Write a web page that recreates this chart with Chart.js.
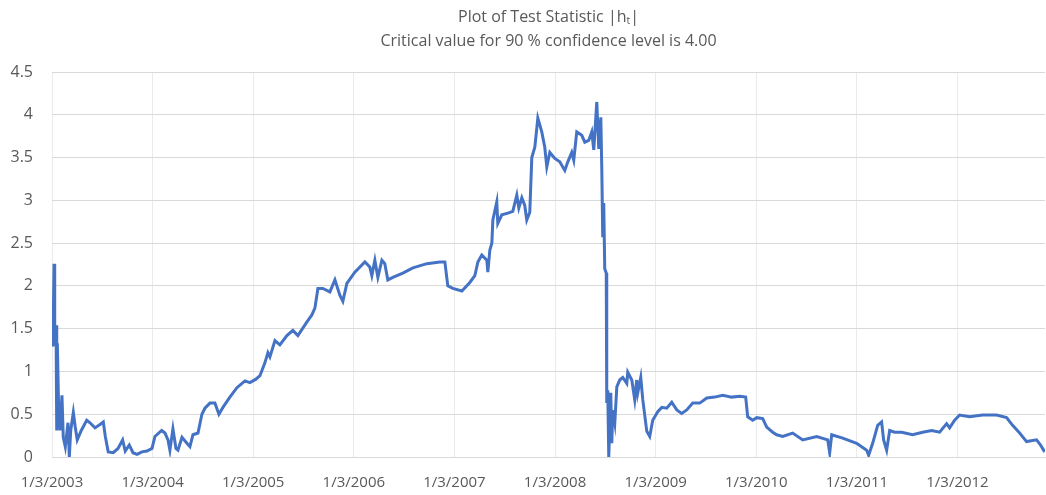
<!DOCTYPE html>
<html>
<head>
<meta charset="utf-8">
<script src="https://cdn.jsdelivr.net/npm/chart.js@4.4.0/dist/chart.umd.min.js"></script>
<style>
  html, body { margin: 0; padding: 0; background: #ffffff; }
  #wrap { width: 1046px; height: 495px; }
</style>
</head>
<body>
<div id="wrap"><canvas id="grafico" width="1046" height="495"></canvas></div>
<script>
// Datas em anos decimais (1/3/2003 = 2003.0)
const datas = [
  2003.007, 2003.015, 2003.020, 2003.027, 2003.040, 2003.047, 2003.053, 2003.067, 2003.079, 2003.099,
  2003.112, 2003.132, 2003.159, 2003.172, 2003.186, 2003.212, 2003.231, 2003.251, 2003.291, 2003.345,
  2003.378, 2003.427, 2003.477, 2003.510, 2003.530, 2003.559, 2003.609, 2003.656, 2003.702, 2003.728,
  2003.768, 2003.805, 2003.845, 2003.894, 2003.944, 2003.994, 2004.023, 2004.090, 2004.123, 2004.153,
  2004.172, 2004.202, 2004.232, 2004.252, 2004.292, 2004.341, 2004.371, 2004.401, 2004.451, 2004.490,
  2004.520, 2004.570, 2004.619, 2004.659, 2004.699, 2004.768, 2004.838, 2004.918, 2004.967, 2005.027,
  2005.067, 2005.116, 2005.146, 2005.166, 2005.216, 2005.265, 2005.335, 2005.394, 2005.444, 2005.534,
  2005.583, 2005.613, 2005.643, 2005.692, 2005.762, 2005.812, 2005.861, 2005.891, 2005.931, 2006.010,
  2006.110, 2006.159, 2006.179, 2006.209, 2006.239, 2006.279, 2006.308, 2006.338, 2006.388, 2006.487,
  2006.587, 2006.726, 2006.855, 2006.905, 2006.934, 2006.984, 2007.074, 2007.153, 2007.203, 2007.233,
  2007.272, 2007.322, 2007.332, 2007.352, 2007.372, 2007.382, 2007.421, 2007.431, 2007.471, 2007.531,
  2007.580, 2007.620, 2007.640, 2007.670, 2007.699, 2007.719, 2007.749, 2007.769, 2007.799, 2007.829,
  2007.868, 2007.898, 2007.918, 2007.948, 2007.998, 2008.047, 2008.097, 2008.127, 2008.166, 2008.186,
  2008.216, 2008.266, 2008.296, 2008.335, 2008.365, 2008.385, 2008.415, 2008.435, 2008.455, 2008.465,
  2008.474, 2008.484, 2008.494, 2008.509, 2008.514, 2008.524, 2008.534, 2008.554, 2008.564, 2008.574,
  2008.594, 2008.614, 2008.643, 2008.673, 2008.713, 2008.723, 2008.763, 2008.792, 2008.812, 2008.822,
  2008.852, 2008.872, 2008.912, 2008.941, 2008.971, 2009.021, 2009.061, 2009.110, 2009.160, 2009.210,
  2009.259, 2009.309, 2009.369, 2009.438, 2009.508, 2009.587, 2009.667, 2009.756, 2009.836, 2009.895,
  2009.915, 2009.965, 2010.005, 2010.064, 2010.104, 2010.163, 2010.203, 2010.263, 2010.362, 2010.462,
  2010.601, 2010.710, 2010.730, 2010.750, 2010.859, 2010.998, 2011.097, 2011.117, 2011.157, 2011.207,
  2011.246, 2011.266, 2011.296, 2011.326, 2011.376, 2011.445, 2011.554, 2011.654, 2011.743, 2011.823,
  2011.892, 2011.922, 2011.972, 2012.021, 2012.121, 2012.250, 2012.389, 2012.488, 2012.548, 2012.618,
  2012.687, 2012.786, 2012.826, 2012.866
];

// Valores da estatística |ht|
const valores = [
  1.29, 1.75, 2.26, 1.30, 1.54, 0.31, 1.33, 0.50, 0.31, 0.72,
  0.23, 0.12, 0.40, 0.00, 0.31, 0.52, 0.35, 0.20, 0.31, 0.43,
  0.40, 0.34, 0.38, 0.41, 0.24, 0.06, 0.05, 0.10, 0.20, 0.07,
  0.14, 0.05, 0.03, 0.06, 0.07, 0.10, 0.24, 0.31, 0.28, 0.20,
  0.08, 0.33, 0.10, 0.08, 0.23, 0.16, 0.12, 0.26, 0.28, 0.50,
  0.57, 0.63, 0.63, 0.50, 0.58, 0.70, 0.81, 0.89, 0.87, 0.91,
  0.95, 1.10, 1.22, 1.17, 1.36, 1.31, 1.42, 1.48, 1.42, 1.58,
  1.66, 1.74, 1.97, 1.97, 1.93, 2.07, 1.89, 1.82, 2.03, 2.16,
  2.28, 2.22, 2.12, 2.30, 2.10, 2.30, 2.26, 2.07, 2.10, 2.15,
  2.21, 2.26, 2.28, 2.28, 2.00, 1.97, 1.94, 2.04, 2.12, 2.28,
  2.36, 2.30, 2.16, 2.42, 2.50, 2.77, 2.98, 2.73, 2.83, 2.85,
  2.87, 3.06, 2.91, 3.03, 2.94, 2.77, 2.86, 3.50, 3.62, 3.96,
  3.80, 3.62, 3.39, 3.56, 3.49, 3.45, 3.35, 3.45, 3.56, 3.47,
  3.80, 3.76, 3.68, 3.70, 3.80, 3.59, 4.15, 3.60, 3.97, 3.35,
  2.57, 2.97, 2.20, 2.15, 0.63, 0.78, 0.00, 0.75, 0.16, 0.55,
  0.40, 0.82, 0.90, 0.93, 0.86, 0.99, 0.90, 0.67, 0.90, 0.75,
  0.93, 0.67, 0.30, 0.24, 0.43, 0.53, 0.58, 0.57, 0.64, 0.55,
  0.51, 0.55, 0.63, 0.63, 0.69, 0.70, 0.72, 0.70, 0.71, 0.70,
  0.47, 0.43, 0.46, 0.45, 0.35, 0.29, 0.26, 0.24, 0.28, 0.20,
  0.24, 0.20, 0.05, 0.26, 0.22, 0.16, 0.08, 0.02, 0.16, 0.37,
  0.41, 0.20, 0.08, 0.31, 0.29, 0.29, 0.26, 0.29, 0.31, 0.29,
  0.39, 0.34, 0.43, 0.49, 0.47, 0.49, 0.49, 0.46, 0.37, 0.28,
  0.18, 0.20, 0.14, 0.06
];

// Eixos
const anoInicial = 2003;
const anoFinal = 2012.87;
const tituloLinhas = ['Plot of Test Statistic |h\u209C|', 'Critical value for 90 % confidence level is 4.00'];

const corTexto = '#595959';
const fonte = "'Open Sans', 'DejaVu Sans', sans-serif";

const pontos = datas.map((d, i) => ({ x: d, y: valores[i] }));

new Chart(document.getElementById('grafico').getContext('2d'), {
    type: 'line',
    data: {
        datasets: [{
            label: '|ht|',
            data: pontos,
            borderColor: '#4472C4',
            borderWidth: 3,
            pointRadius: 0,
            tension: 0,
            fill: false
        }]
    },
    options: {
        responsive: false,
        animation: false,
        layout: {
            padding: { left: 0, right: 1, top: 0, bottom: 0 }
        },
        plugins: {
            legend: { display: false },
            tooltip: { enabled: false },
            title: {
                display: true,
                fullSize: false,
                text: tituloLinhas,
                color: corTexto,
                font: { family: fonte, size: 16, weight: 'normal', lineHeight: 1.5 },
                padding: { top: 5, bottom: 19 }
            }
        },
        scales: {
            x: {
                type: 'linear',
                min: anoInicial,
                max: anoFinal,
                grid: { color: '#ebebeb', drawTicks: false },
                border: { display: true, color: '#d9d9d9' },
                ticks: {
                    stepSize: 1,
                    includeBounds: false,
                    autoSkip: false,
                    maxRotation: 0,
                    padding: 17,
                    color: corTexto,
                    font: { family: fonte, size: 15 },
                    callback: (v) => Number.isInteger(v) ? '1/3/' + v : ''
                },
                afterFit: (s) => { s.height = 38; }
            },
            y: {
                min: 0,
                max: 4.5,
                grid: { color: '#d9d9d9', drawTicks: false },
                border: { display: false },
                ticks: {
                    stepSize: 0.5,
                    padding: 19,
                    color: corTexto,
                    font: { family: fonte, size: 16 },
                    callback: (v) => String(v)
                },
                afterFit: (s) => { s.width = 52; }
            }
        }
    }
});
</script>
</body>
</html>
